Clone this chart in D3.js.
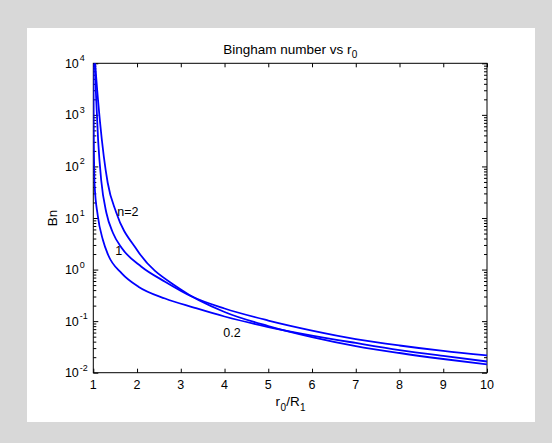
<!DOCTYPE html>
<html>
<head>
<meta charset="utf-8">
<script src="https://cdn.jsdelivr.net/npm/d3@7"></script>
<style>
  html, body { margin: 0; padding: 0; background: #d8d8d8; }
  svg { display: block; }
</style>
</head>
<body>
<svg id="chart"></svg>
<script>
// tick values
const xTicks = [1, 2, 3, 4, 5, 6, 7, 8, 9, 10];
const yTickExps = [-2, -1, 0, 1, 2, 3, 4];

// curve n=2
const xN2 = [1.042, 1.062, 1.153, 1.33, 1.52, 2.0, 3.0, 4, 5, 6, 7, 8, 9, 10];
const bnN2 = [10000, 5930, 736, 47.7, 13.07, 2.394, 0.4106, 0.1503, 0.0804, 0.0492, 0.0329, 0.0241, 0.01843, 0.01455];

// curve n=1
const xN1 = [1.035, 1.062, 1.11, 1.18, 1.3, 1.45, 1.65, 2.1, 2.64, 3.25, 4, 5, 6, 7, 8, 9, 10];
const bnN1 = [10000, 2427, 325.3, 54.6, 12.5, 5.12, 2.62, 1.136, 0.5816, 0.3003, 0.1757, 0.1028, 0.0658, 0.0450, 0.0337, 0.0264, 0.0216];

// curve n=0.2
const xN02 = [1.003, 1.01, 1.03, 1.1, 1.22, 1.34, 1.65, 2.03, 2.64, 3.3, 4, 5, 6, 7, 8, 9, 10];
const bnN02 = [10000, 508, 43.7, 11.43, 3.74, 1.916, 0.845, 0.466, 0.2747, 0.1837, 0.1230, 0.0769, 0.0526, 0.0377, 0.0275, 0.0211, 0.0165];

// curve labels
const curveLabels = ["n=2", "1", "0.2"];
const labelX = [1.55, 1.5, 3.97];
const labelY = [11.1, 1.91, 0.049];

const width = 552, height = 443;
const margin = { top: 63.3, right: 65, bottom: 70.3, left: 93.3 };
const innerWidth = width - margin.left - margin.right;
const innerHeight = height - margin.top - margin.bottom;
const font = "Arial, 'Liberation Sans', Helvetica, sans-serif";

const svg = d3.select("#chart")
    .attr("width", width).attr("height", height)
    .attr("font-family", font);

// white panel
svg.append("rect")
    .attr("x", 27).attr("y", 28)
    .attr("width", 508).attr("height", 394)
    .attr("fill", "#fff");

const xScale = d3.scaleLinear().domain([1, 10]).range([margin.left, margin.left + innerWidth]);
const yScale = d3.scaleLog().domain([1e-2, 1e4]).range([margin.top + innerHeight, margin.top]);
const x0 = margin.left, x1 = margin.left + innerWidth;
const y0 = margin.top + innerHeight, y1 = margin.top;

svg.append("defs").append("clipPath").attr("id", "plotclip")
    .append("rect")
    .attr("x", x0).attr("y", y1)
    .attr("width", innerWidth).attr("height", innerHeight);

// minor / major log ticks
const yMajor = yTickExps.map(e => Math.pow(10, e));
const yMinor = [];
yTickExps.slice(0, -1).forEach(e => {
    for (let m = 2; m <= 9; m++) yMinor.push(m * Math.pow(10, e));
});

function styleAxis(g) {
    g.select(".domain").remove();
    g.selectAll(".tick line").attr("stroke", "#000");
    g.selectAll(".tick text").remove();
}

svg.append("g").attr("transform", `translate(${x0},0)`)
    .call(d3.axisLeft(yScale).tickValues(yMinor).tickSize(-3)).call(styleAxis);
svg.append("g").attr("transform", `translate(${x0},0)`)
    .call(d3.axisLeft(yScale).tickValues(yMajor).tickSize(-5)).call(styleAxis);
svg.append("g").attr("transform", `translate(${x1},0)`)
    .call(d3.axisRight(yScale).tickValues(yMinor).tickSize(-3)).call(styleAxis);
svg.append("g").attr("transform", `translate(${x1},0)`)
    .call(d3.axisRight(yScale).tickValues(yMajor).tickSize(-5)).call(styleAxis);
svg.append("g").attr("transform", `translate(0,${y0})`)
    .call(d3.axisBottom(xScale).tickValues(xTicks).tickSize(-4)).call(styleAxis);
svg.append("g").attr("transform", `translate(0,${y1})`)
    .call(d3.axisTop(xScale).tickValues(xTicks).tickSize(-4)).call(styleAxis);

// x tick labels
svg.selectAll(".x-label")
    .data(xTicks)
    .join("text")
    .classed("x-label", true)
    .attr("x", d => xScale(d))
    .attr("y", y0 + 16.5)
    .attr("text-anchor", "middle")
    .attr("font-size", 12.5)
    .attr("fill", "#000")
    .text(d => d);

// y tick labels 10^k
svg.selectAll(".y-base")
    .data(yTickExps)
    .join("text")
    .classed("y-base", true)
    .attr("x", x0 - 14.5)
    .attr("y", d => yScale(Math.pow(10, d)) + 4.5)
    .attr("text-anchor", "end")
    .attr("font-size", 12.5)
    .attr("fill", "#000")
    .text("10");
svg.selectAll(".y-exp")
    .data(yTickExps)
    .join("text")
    .classed("y-exp", true)
    .attr("x", x0 - 13.5)
    .attr("y", d => yScale(Math.pow(10, d)) - 2)
    .attr("font-size", 9)
    .attr("fill", "#000")
    .text(d => d);

// frame
svg.append("rect")
    .attr("x", x0).attr("y", y1)
    .attr("width", innerWidth).attr("height", innerHeight)
    .attr("fill", "none").attr("stroke", "#000").attr("stroke-width", 1);

// curves
const line = d3.line()
    .x(d => xScale(d[0]))
    .y(d => yScale(d[1]))
    .curve(d3.curveMonotoneX);

const curves = [
    d3.zip(xN2, bnN2),
    d3.zip(xN1, bnN1),
    d3.zip(xN02, bnN02)
];

svg.append("g").attr("clip-path", "url(#plotclip)")
    .selectAll(".curve")
    .data(curves)
    .join("path")
    .classed("curve", true)
    .attr("d", line)
    .attr("fill", "none")
    .attr("stroke", "#0000ff")
    .attr("stroke-width", 1.8);

svg.selectAll(".curve-label")
    .data(curveLabels)
    .join("text")
    .classed("curve-label", true)
    .attr("x", (d, i) => xScale(labelX[i]))
    .attr("y", (d, i) => yScale(labelY[i]))
    .attr("font-size", 12.5)
    .attr("fill", "#000")
    .text(d => d);

// text with subscripts, laid out piece by piece
function subText(parts, cx, baseline, size, subSize, subDrop) {
    const g = svg.append("g");
    const nodes = parts.map(p => g.append("text")
        .attr("y", p.sub ? baseline + subDrop : baseline)
        .attr("font-size", p.sub ? subSize : size)
        .attr("fill", "#000")
        .text(p.t));
    const widths = nodes.map(n => n.node().getComputedTextLength());
    let x = cx - d3.sum(widths) / 2;
    nodes.forEach((n, i) => { n.attr("x", x); x += widths[i] + 0.3; });
}

// title
subText([{ t: "Bingham number vs r" }, { t: "0", sub: true }], (x0 + x1) / 2, y1 - 9.5, 13.5, 10, 4);

// x axis title
subText([{ t: "r" }, { t: "0", sub: true }, { t: "/R" }, { t: "1", sub: true }], (x0 + x1) / 2, y0 + 33, 13.5, 10, 5);

// y axis title
svg.append("text")
    .attr("transform", `translate(${x0 - 36},${(y0 + y1) / 2}) rotate(-90)`)
    .attr("text-anchor", "middle")
    .attr("font-size", 13.5)
    .attr("fill", "#000")
    .text("Bn");
</script>
</body>
</html>
